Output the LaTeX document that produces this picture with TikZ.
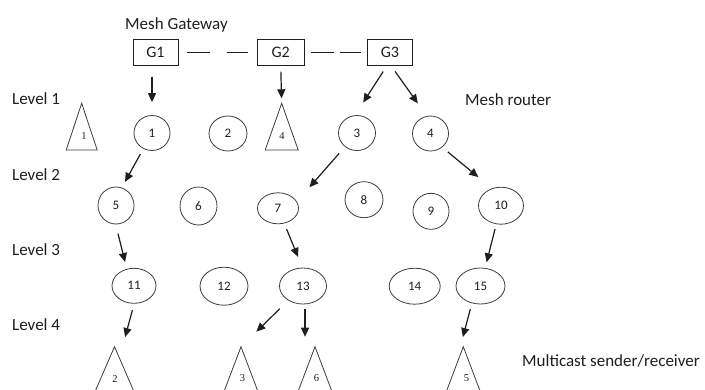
\documentclass[tikz,border=0pt]{standalone}
\usepackage{fontspec}
\setmainfont{Carlito}
\newfontfamily\digitfont{Liberation Serif}
\usetikzlibrary{arrows.meta,shapes.geometric}
\definecolor{ink}{HTML}{1E1E1E}
\definecolor{rim}{HTML}{3C3C3C}

\begin{document}
\begin{tikzpicture}[x=1pt, y=-1pt,
    router/.style={ellipse, draw=rim, line width=0.8pt, inner sep=0pt, font=\fontsize{13}{13}\selectfont, text=ink},
    gateway/.style={rectangle, draw=ink, line width=0.9pt, inner sep=0pt, minimum width=45pt, minimum height=26pt, font=\fontsize{16}{16}\selectfont, text=ink},
    arr/.style={-{Triangle[length=9pt,width=8pt]}, line width=1.2pt, draw=ink},
    link/.style={line width=0.9pt, draw=ink},
    sr/.style={line width=0.8pt, draw=rim},
    lbl/.style={anchor=base west, inner sep=0pt, font=\fontsize{17}{17}\selectfont, text=ink},
    trilbl/.style={inner sep=0pt, font=\digitfont\fontsize{10.5}{10.5}\selectfont, text=ink}]
    \useasboundingbox (0,0) rectangle (705,389);
    \clip (0,0) rectangle (705,389);

    % Mesh gateways
    \node[gateway] (g1) at (155.5,52.2) {G1};
    \node[gateway, minimum width=47pt] (g2) at (280.7,52.2) {G2};
    \node[gateway] (g3) at (390,52.2) {G3};
    \draw[link, dash pattern=on 22.5pt off 16.6pt, shorten <=9pt, shorten >=9pt] (g1) -- (g2);
    \draw[link, dash pattern=on 23pt off 6pt, shorten <=6pt, shorten >=5.7pt] (g2) -- (g3);

    % Mesh routers, level 1
    \node[router, minimum width=36pt, minimum height=35pt] (r1) at (152,133) {1};
    \node[router, minimum width=38pt, minimum height=35pt] (r2) at (228,133.5) {2};
    \node[router, minimum width=37pt, minimum height=35pt] (r3) at (357,133) {3};
    \node[router, minimum width=36pt, minimum height=35pt] (r4) at (430.5,133.5) {4};

    % Level 2
    \node[router, minimum width=36pt, minimum height=37pt] (r5) at (116,205.5) {5};
    \node[router, minimum width=37pt, minimum height=38pt] (r6) at (198.5,206) {6};
    \node[router, minimum width=41pt, minimum height=31pt] (r7) at (278,208.3) {7};
    \node[router, minimum width=38pt, minimum height=36pt] (r8) at (364,199.7) {8};
    \node[router, minimum width=36pt, minimum height=36pt] (r9) at (431,211.3) {9};
    \node[router, minimum width=45pt, minimum height=37pt] (r10) at (501,205.7) {10};

    % Level 3
    \node[router, minimum width=44pt, minimum height=35pt] (r11) at (134,285.8) {11};
    \node[router, minimum width=48pt, minimum height=38pt] (r12) at (224,286.2) {12};
    \node[router, minimum width=47pt, minimum height=36pt] (r13) at (303,286) {13};
    \node[router, minimum width=51pt, minimum height=36pt] (r14) at (414.7,286.2) {14};
    \node[router, minimum width=49pt, minimum height=36pt] (r15) at (480.5,286) {15};

    % Multicast senders/receivers (apex coordinates)
    \coordinate (s1) at (81.7,103.3);
    \coordinate (s4) at (281.7,103.3);
    \coordinate (s2) at (114.5,346.7);
    \coordinate (s3) at (241,346.7);
    \coordinate (s6) at (315,346.7);
    \coordinate (s5) at (463.3,346.7);
    \draw[sr] (s1) -- ++(-15.5,46.7) -- ++(31,0) -- cycle;
    \draw[sr] (s4) -- ++(-16.5,46.7) -- ++(33,0) -- cycle;
    \draw[sr] (s2) -- ++(-26,60) -- ++(52,0) -- cycle;
    \draw[sr] (s3) -- ++(-22.7,60) -- ++(45.4,0) -- cycle;
    \draw[sr] (s6) -- ++(-22.7,60) -- ++(45.4,0) -- cycle;
    \draw[sr] (s5) -- ++(-22.7,60) -- ++(45.4,0) -- cycle;
    \node[trilbl] (s1l) at (84,136) {1};
    \node[trilbl] (s4l) at (282,136) {4};
    \node[trilbl] (s2l) at (115,379) {2};
    \node[trilbl] (s3l) at (242.5,378) {3};
    \node[trilbl] (s6l) at (316.5,378) {6};
    \node[trilbl] (s5l) at (466.5,378) {5};

    % Arrows
    \draw[arr, shorten <=11pt, shorten >=13pt] (g1.south -| r1) -- (r1.north);
    \draw[arr, shorten <=6pt, shorten >=5pt] (g2.south) -- (s4);
    \draw[arr, shorten <=7pt, shorten >=15pt] ([xshift=-3pt]g3.south) -- ([xshift=-2pt]r3.north);
    \draw[arr, shorten <=7pt, shorten >=15pt] ([xshift=1pt]g3.south) -- ([xshift=-4pt]r4.north);
    \draw[arr, shorten <=24pt, shorten >=27pt] (r1.center) -- ([xshift=-4pt]r5.center);
    \draw[arr, shorten <=27pt, shorten >=28pt] (r3.center) -- ([xshift=13pt]r7.center);
    \draw[arr, shorten <=29pt, shorten >=45pt] ([xshift=-5pt]r4.center) -- ([xshift=12pt]r10.center);
    \draw[arr, shorten <=29pt, shorten >=24.5pt] ([xshift=-5pt]r5.center) -- ([xshift=-3pt]r11.center);
    \draw[arr, shorten <=22.5pt, shorten >=31.5pt] (r7.center) -- ([xshift=7pt]r13.center);
    \draw[arr, shorten <=24pt, shorten >=24.5pt] (r10.center) -- (r15.center);
    \draw[arr, shorten <=25pt, shorten >=10pt] ([xshift=5pt]r11.center) -- ([xshift=8pt]s2);
    \draw[arr, shorten <=32.5pt, shorten >=21.5pt] (r13.center) -- (s3);
    \draw[arr, shorten <=5pt, shorten >=10pt] ([xshift=2pt]r13.south) -- ([xshift=2pt]r13.south |- s6);
    \draw[arr, shorten <=24pt, shorten >=10pt] ([xshift=-4pt]r15.center) -- ([xshift=-3pt]s5);

    % Labels
    \node[lbl] (gwtext) at (125,29.3) {Mesh Gateway};
    \node[lbl] (rtext) at (465,105) {Mesh router};
    \node[lbl] (mctext) at (522,366.7) {Multicast sender/receiver};
    \foreach \i/\y in {1/104,2/180,3/255,4/330}
        \node[lbl] (lev\i) at (12,\y) {Level \i};
\end{tikzpicture}
\end{document}
